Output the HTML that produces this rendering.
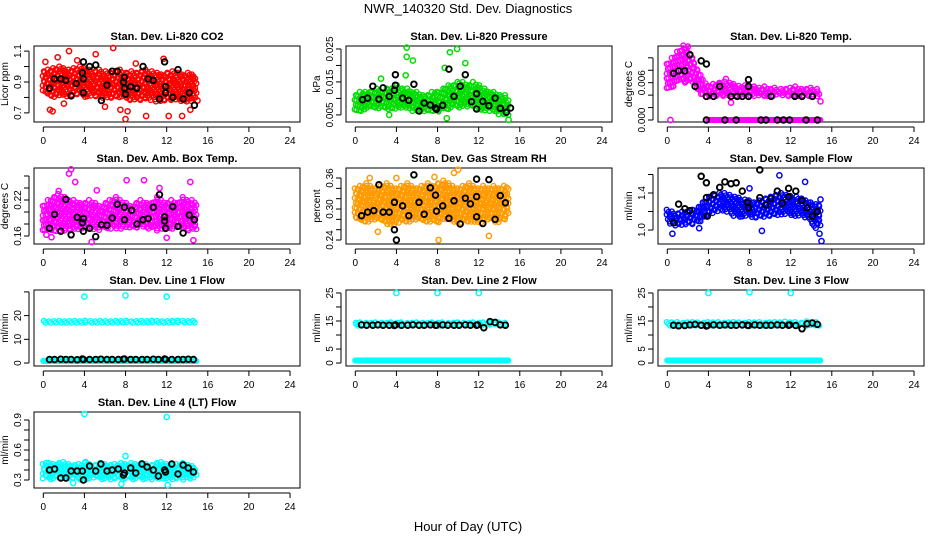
<!DOCTYPE html>
<html><head><meta charset="utf-8"><style>
html,body{margin:0;padding:0;background:#fff;}
svg{display:block;font-family:"Liberation Sans",Arial,sans-serif;}
.t{font-weight:bold;font-size:11px;text-anchor:middle;}
.tk{font-size:10px;}
</style></head><body>
<svg id="chart" width="936" height="540" viewBox="0 0 936 540">
<text x="468" y="13" font-size="13" text-anchor="middle">NWR_140320  Std. Dev. Diagnostics</text>
<text x="468" y="531" font-size="13" text-anchor="middle">Hour of Day (UTC)</text>
</svg>
<script>
// shared half-hour grid 0..15
const gridH = [0,0.5,1,1.5,2,2.5,3,3.5,4,4.5,5,5.5,6,6.5,7,7.5,8,8.5,9,9.5,10,10.5,11,11.5,12,12.5,13,13.5,14,14.5,15];
const xTicks = [0,4,8,12,16,20,24];

const co2Hi = [0.97,0.98,0.99,1.0,0.99,0.98,0.99,1.0,0.99,0.98,0.97,0.98,0.97,0.96,0.97,0.98,0.96,0.97,0.96,0.97,0.98,0.97,0.96,0.95,0.96,0.97,0.96,0.95,0.96,0.95,0.94];
const co2Lo = [0.82,0.81,0.80,0.80,0.81,0.80,0.81,0.82,0.80,0.80,0.81,0.80,0.79,0.80,0.79,0.80,0.79,0.78,0.79,0.78,0.79,0.78,0.77,0.78,0.78,0.77,0.78,0.77,0.77,0.78,0.79];
const co2BlackH = [0.6,1.07,1.7,2.2,2.7,3.2,3.9,3.8,3.9,3.9,4.5,5.1,5.65,6.2,6.7,7.2,7.9,7.8,7.9,8.0,8.5,9.1,9.7,10.2,10.7,11.3,11.8,11.9,11.9,12.6,13.1,13.6,14.2,14.7];
const co2BlackV = [0.86,0.92,0.92,0.91,0.81,0.89,1.03,0.96,0.92,0.83,1.0,1.01,0.78,0.88,0.97,0.97,0.93,0.90,0.86,0.82,0.87,0.86,1.0,0.92,0.91,0.79,1.03,0.87,0.83,0.80,0.98,0.79,0.83,0.75];
const co2OutH = [2.5,6.8,5.1,8.0,0.2,0.65,0.9,2.0,12.2,13.5,10,11.7,6.0,8.2,14.3,15,1.4,3.3,7.5,9.0];
const co2OutV = [1.1,1.12,1.08,0.66,1.03,0.72,0.71,0.76,0.68,0.68,0.68,1.05,0.74,0.71,0.72,0.78,1.06,1.04,0.72,1.02];

const prHi = [0.011,0.012,0.012,0.012,0.013,0.012,0.013,0.013,0.014,0.013,0.013,0.012,0.012,0.011,0.011,0.012,0.012,0.013,0.014,0.014,0.015,0.015,0.014,0.015,0.014,0.013,0.012,0.012,0.011,0.011,0.010];
const prLo = [0.006,0.006,0.007,0.007,0.007,0.007,0.007,0.006,0.007,0.007,0.007,0.006,0.006,0.006,0.006,0.006,0.006,0.006,0.006,0.007,0.007,0.007,0.007,0.007,0.006,0.006,0.006,0.006,0.005,0.005,0.005];
const prBlackH = [0.7,1.2,1.7,2.3,2.7,3.3,3.9,3.9,3.8,4.6,5.2,5.7,6.2,6.7,7.3,7.8,7.9,8.5,9.1,9.6,10.2,10.7,11.3,11.8,11.8,12.4,13.0,13.6,14.1,14.7,15.1];
const prBlackV = [0.0096,0.0101,0.0137,0.0098,0.0132,0.0106,0.0172,0.014,0.0125,0.0101,0.0094,0.0143,0.0062,0.0086,0.008,0.0071,0.0067,0.0079,0.0189,0.0106,0.0137,0.0172,0.009,0.0114,0.0068,0.0091,0.0078,0.0101,0.007,0.0058,0.0071];
const prOutH = [5.0,5.0,5.6,9.2,9.9,8.9,14.9,10.7,8.7,3.3,2.5,4.9];
const prOutV = [0.0254,0.0226,0.0215,0.024,0.025,0.004,0.0035,0.0207,0.0193,0.005,0.016,0.017];

const tempHi = [0.009,0.010,0.011,0.012,0.011,0.010,0.008,0.0065,0.0055,0.0058,0.0060,0.0062,0.0060,0.0058,0.0055,0.0056,0.0055,0.0054,0.0052,0.0054,0.0050,0.0052,0.0050,0.0050,0.0052,0.0054,0.0050,0.0050,0.0052,0.0050,0.0045];
const tempLo = [0.005,0.005,0.006,0.006,0.006,0.006,0.0045,0.0038,0.0038,0.0038,0.0038,0.0038,0.0038,0.0038,0.0038,0.0038,0.0038,0.0038,0.0038,0.0038,0.0038,0.0038,0.0038,0.0038,0.0038,0.0038,0.0038,0.0038,0.0038,0.0038,0.0038];
const tempBase = [null,null,null,null,null,null,null,null,0,0,0,0,0,0,0,0,0,0,0,0,0,0,0,0,0,0,0,0,0,0,0];
const tempBlackH = [0.6,1.1,1.7,2.2,2.7,3.3,3.8,3.8,4.5,5.1,3.8,5.6,6.7,6.2,6.8,7.3,7.9,7.9,7.9,9.1,9.6,10.1,10.7,11.3,11.9,12.4,13.1,13.5,14.1,14.6];
const tempBlackV = [0.0075,0.0079,0.0079,0.0105,0.0054,0.0095,0.009,0.0038,0.0038,0.0054,0,0,0,0.0038,0.0038,0.0038,0.0038,0.0065,0.0054,0,0,0.0038,0,0,0,0.0038,0.0038,0,0.0038,0];
const tempOutH = [0.3,2.0,1.8,6.2,14.9,5.7];
const tempOutV = [0,0.0118,0.0115,0.0028,0.003,0.0066];

const ambHi = [0.21,0.22,0.225,0.23,0.225,0.22,0.22,0.215,0.215,0.22,0.215,0.21,0.215,0.22,0.225,0.22,0.215,0.21,0.215,0.22,0.215,0.215,0.225,0.22,0.215,0.22,0.215,0.225,0.22,0.22,0.215];
const ambLo = [0.17,0.168,0.165,0.17,0.168,0.17,0.168,0.172,0.17,0.168,0.172,0.17,0.175,0.172,0.17,0.172,0.175,0.172,0.17,0.175,0.172,0.17,0.168,0.17,0.172,0.17,0.175,0.172,0.17,0.168,0.17];
const ambBlackH = [0.6,1.1,1.7,2.2,2.7,3.3,3.9,3.8,3.9,4.5,5.1,5.65,6.2,6.7,7.2,7.9,7.9,8.6,9.1,9.7,10.2,10.7,11.3,11.8,11.8,11.9,12.6,13.1,13.6,14.2,14.7];
const ambBlackV = [0.173,0.196,0.168,0.221,0.162,0.191,0.189,0.182,0.168,0.173,0.159,0.179,0.178,0.19,0.213,0.208,0.187,0.203,0.18,0.187,0.189,0.208,0.229,0.185,0.192,0.173,0.209,0.176,0.165,0.195,0.187];
const ambOutH = [2.5,2.7,8.1,9.8,4.7,0.3,14.6,14.3,3.1,5.2,1.5,11.3,0.8,12.0];
const ambOutV = [0.264,0.271,0.253,0.253,0.15,0.162,0.153,0.25,0.25,0.236,0.235,0.24,0.158,0.157];

const rhHi = [0.34,0.345,0.35,0.345,0.34,0.345,0.35,0.345,0.34,0.345,0.35,0.345,0.34,0.345,0.35,0.345,0.35,0.355,0.35,0.345,0.34,0.345,0.35,0.345,0.34,0.345,0.34,0.345,0.34,0.345,0.345];
const rhLo = [0.28,0.275,0.27,0.275,0.28,0.275,0.27,0.265,0.27,0.275,0.27,0.275,0.28,0.275,0.27,0.275,0.27,0.275,0.28,0.275,0.27,0.275,0.27,0.275,0.27,0.275,0.28,0.275,0.275,0.28,0.285];
const rhBlackH = [0.6,1.2,1.8,2.3,2.7,3.3,3.8,3.8,4.0,4.6,5.2,5.7,6.2,6.7,7.3,7.8,7.9,8.5,9.1,9.6,10.2,10.7,11.2,11.8,11.8,11.8,12.4,13.0,13.6,14.1,14.6];
const rhBlackV = [0.287,0.294,0.297,0.347,0.294,0.294,0.313,0.26,0.24,0.306,0.287,0.366,0.313,0.29,0.341,0.327,0.296,0.306,0.282,0.316,0.271,0.321,0.31,0.358,0.324,0.285,0.272,0.357,0.28,0.326,0.312];
const rhOutH = [10.0,8.1,13.0,2.2,1.4,4.0,9.6,7.7];
const rhOutV = [0.376,0.24,0.248,0.256,0.36,0.36,0.37,0.362];

const sfHi = [1.22,1.2,1.18,1.2,1.2,1.22,1.25,1.3,1.36,1.38,1.4,1.4,1.38,1.36,1.35,1.33,1.32,1.3,1.32,1.34,1.36,1.38,1.4,1.38,1.37,1.36,1.34,1.32,1.3,1.28,1.3];
const sfLo = [1.08,1.05,1.04,1.05,1.05,1.06,1.08,1.12,1.16,1.18,1.2,1.2,1.18,1.15,1.14,1.13,1.14,1.13,1.14,1.14,1.15,1.16,1.15,1.16,1.16,1.15,1.14,1.12,1.08,1.02,1.0];
const sfBlackH = [0.6,1.1,1.7,2.2,3.3,3.8,3.8,3.9,4.5,5.1,5.6,6.2,6.7,7.3,7.9,7.8,9.0,9.0,9.6,10.1,10.7,11.2,11.8,11.8,12.5,13.1,13.6,14.1,14.6];
const sfBlackV = [1.08,1.28,1.23,1.21,1.58,1.51,1.35,1.15,1.38,1.46,1.52,1.5,1.51,1.42,1.24,1.3,1.65,1.35,1.27,1.34,1.42,1.29,1.45,1.36,1.42,1.32,1.24,1.15,1.2];
const sfOutH = [0.5,15,14.8,10.9,13.4,9.2,3.1,8.0,14.9];
const sfOutV = [0.96,0.88,0.96,1.59,1.52,0.99,1.02,1.45,1.33];

const lineBlackH = [0.6,1.1,1.7,2.2,2.7,3.3,3.8,3.9,4.5,5.1,5.6,6.2,6.7,7.3,7.8,7.9,8.5,9.0,9.6,10.1,10.7,11.2,11.8,11.9,12.5,13.1,13.6,14.1,14.6];
const flowOutH = [4,8,12];

const l1Hi = [17.8,17.6,17.7,17.8,17.6,17.7,17.8,17.6,17.9,17.7,17.6,17.8,17.7,17.6,17.8,17.7,17.9,17.6,17.7,17.8,17.7,17.9,17.8,17.6,17.7,17.8,17.9,17.8,17.7,17.8,17.7];
const l1Lo = [16.6,16.5,16.6,16.5,16.6,16.5,16.6,16.5,16.6,16.5,16.6,16.5,16.6,16.5,16.6,16.5,16.6,16.5,16.6,16.5,16.6,16.5,16.6,16.5,16.6,16.5,16.6,16.5,16.6,16.5,16.6];
const l1Base = [0.9,0.9,0.9,0.9,0.9,0.9,0.9,0.9,0.9,0.9,0.9,0.9,0.9,0.9,0.9,0.9,0.9,0.9,0.9,0.9,0.9,0.9,0.9,0.9,0.9,0.9,0.9,0.9,0.9,0.9,0.9];
const l1BlackV = [1.5,1.5,1.6,1.5,1.5,1.4,1.7,1.5,1.5,1.5,1.6,1.5,1.5,1.5,1.6,1.7,1.5,1.5,1.5,1.5,1.6,1.5,1.7,1.5,1.5,1.5,1.5,1.6,1.5];
const l1OutV = [28,28.5,28];

const l2Hi = [14.4,14.5,14.4,14.3,14.5,14.4,14.3,14.5,14.4,14.5,14.3,14.4,14.5,14.4,14.3,14.5,14.4,14.5,14.3,14.4,14.5,14.4,14.3,14.5,14.4,14.5,14.3,14.4,14.5,14.4,14.3];
const l2Lo = [13.4,13.3,13.4,13.3,13.4,13.3,13.4,13.3,13.4,13.3,13.4,13.3,13.4,13.3,13.4,13.3,13.4,13.3,13.4,13.3,13.4,13.3,13.4,13.3,13.4,13.3,13.4,13.3,13.4,13.3,13.4];
const l2Base = [0.9,0.9,0.9,0.9,0.9,0.9,0.9,0.9,0.9,0.9,0.9,0.9,0.9,0.9,0.9,0.9,0.9,0.9,0.9,0.9,0.9,0.9,0.9,0.9,0.9,0.9,0.9,0.9,0.9,0.9,0.9];
const l2BlackV = [13.6,13.5,13.5,13.6,13.5,13.5,13.4,13.6,13.5,13.5,13.6,13.5,13.5,13.6,13.5,13.5,13.6,13.5,13.5,13.5,13.6,13.5,13.5,13.6,12.6,14.8,14.5,13.6,13.5];
const l2OutV = [25,25,25];

const l3Hi = [14.6,14.5,14.6,14.4,14.5,14.6,14.5,14.4,14.6,14.5,14.6,14.4,14.5,14.6,14.5,14.4,14.6,14.5,14.6,14.4,14.5,14.6,14.5,14.8,14.5,14.6,14.4,14.9,14.5,14.6,14.4];
const l3Lo = [13.3,13.2,13.3,13.2,13.3,13.2,13.3,13.2,13.3,13.2,13.3,13.2,13.3,13.2,13.3,13.2,13.3,13.2,13.3,13.2,13.3,13.2,13.3,13.2,13.3,13.2,13.3,13.2,13.3,13.2,13.3];
const l3Base = [0.9,0.9,0.9,0.9,0.9,0.9,0.9,0.9,0.9,0.9,0.9,0.9,0.9,0.9,0.9,0.9,0.9,0.9,0.9,0.9,0.9,0.9,0.9,0.9,0.9,0.9,0.9,0.9,0.9,0.9,0.9];
const l3BlackV = [13.5,13.3,13.4,13.6,13.8,13.5,13.2,13.4,13.6,13.5,13.6,13.5,13.5,13.6,13.5,13.4,13.6,13.5,13.5,13.5,13.6,13.5,13.5,13.6,13.4,12.2,14.0,14.3,13.8];
const l3OutV = [25,25.3,25];

const l4Hi = [0.46,0.47,0.46,0.47,0.48,0.46,0.45,0.46,0.47,0.46,0.45,0.47,0.46,0.45,0.46,0.47,0.46,0.47,0.46,0.47,0.46,0.45,0.47,0.48,0.46,0.45,0.46,0.47,0.45,0.44,0.43];
const l4Lo = [0.31,0.3,0.31,0.3,0.31,0.3,0.31,0.3,0.29,0.3,0.31,0.3,0.31,0.3,0.31,0.3,0.31,0.3,0.31,0.3,0.31,0.3,0.31,0.3,0.31,0.3,0.31,0.3,0.31,0.3,0.31];
const l4BlackV = [0.40,0.41,0.32,0.32,0.39,0.39,0.39,0.30,0.44,0.39,0.46,0.39,0.40,0.41,0.35,0.37,0.42,0.37,0.46,0.43,0.40,0.34,0.40,0.38,0.46,0.36,0.45,0.42,0.38];
const l4OutH = [4,12,8,2.9,7.6,12.1,0.3,4.1];
const l4OutV = [0.96,0.93,0.54,0.27,0.26,0.25,0.47,0.48];

const NS = 'http://www.w3.org/2000/svg';
const svg = document.getElementById('chart');
function mk(tag, attrs, parent){ const e=document.createElementNS(NS,tag); for(const k in attrs) e.setAttribute(k,attrs[k]); (parent||svg).appendChild(e); return e; }

const COLX = [34, 346, 658];
const ROWY = [46, 168, 290, 412];
const BOXW = 266, BOXH = 76;
const XDOM = [-0.905, 24.97];

function panel(p){
  const g = mk('g',{});
  
  
  const x0 = COLX[p.col], y0 = ROWY[p.row];
  const xs = h => x0 + (h - XDOM[0]) / (XDOM[1]-XDOM[0]) * BOXW;
  const ys = v => y0 + BOXH - (v - p.dom[0]) / (p.dom[1]-p.dom[0]) * BOXH;
  const t = mk('text',{x:x0+BOXW/2, y:y0-6, class:'t'}, g); t.textContent = p.title;
  
  
  const box = mk('rect',{x:x0, y:y0, width:BOXW, height:BOXH, fill:'none', stroke:'#000', 'stroke-width':1}, g);
  
  
  mk('line',{x1:xs(0), x2:xs(24), y1:y0+BOXH+5, y2:y0+BOXH+5, stroke:'#000'}, g);
  xTicks.forEach(h=>{
    mk('line',{x1:xs(h),x2:xs(h),y1:y0+BOXH+5,y2:y0+BOXH+10,stroke:'#000'}, g);
    const lt = mk('text',{x:xs(h), y:y0+BOXH+22, class:'tk', 'text-anchor':'middle'}, g); lt.textContent = h;
    
    
  });
  const yt0 = p.ticks[0], yt1 = p.ticks[p.ticks.length-1];
  mk('line',{x1:x0-5, x2:x0-5, y1:ys(yt0), y2:ys(yt1), stroke:'#000'}, g);
  p.ticks.forEach(v=>{
    mk('line',{x1:x0-10,x2:x0-5,y1:ys(v),y2:ys(v),stroke:'#000'}, g);
  });
  p.labels.forEach((lab,i)=>{
    const v = p.labelVals[i];
    const lt = mk('text',{x:0,y:0,class:'tk','text-anchor':'middle',transform:`translate(${x0-13},${ys(v)}) rotate(-90)`}, g);
    lt.textContent = lab;
    
    
  });
  const yl = mk('text',{x:0,y:0,class:'tk','text-anchor':'middle',transform:`translate(${x0-26},${y0+BOXH/2}) rotate(-90)`}, g);
  yl.textContent = p.ylab;
  
  
  const marks = mk('g',{fill:'none'}, g);
  const dot = (h,v,col,r,sw)=>{ const c=mk('circle',{cx:xs(h).toFixed(1), cy:ys(v).toFixed(1), r:r, stroke:col, 'stroke-width':sw}, marks); return c; };
  const dotPx = (x,y,col)=>{ mk('circle',{cx:x.toFixed(1), cy:y.toFixed(1), r:2.4, stroke:col, 'stroke-width':1.4}, marks); };
  (p.clouds||[]).forEach(cl=>{
    let n=0;
    for(let i=0;i<gridH.length-1;i++){
      for(let s=0;s<3;s++){
        const f=s/3, h=gridH[i]+f*(gridH[i+1]-gridH[i]);
        const hi=cl.hi[i]+f*(cl.hi[i+1]-cl.hi[i]);
        const lo=cl.lo[i]+f*(cl.lo[i+1]-cl.lo[i]);
        const yA=ys(hi), yB=ys(lo);
        const off = (n%3)*1.6; n++;
        for(let y=yA+off; y<=yB+0.1; y+=4.8){ dotPx(xs(h)+((Math.round(y)%2)?0.6:-0.6), y, cl.color); }
      }
    }
  });
  (p.rows||[]).forEach(rw=>{
    for(let i=0;i<gridH.length-1;i++){
      if(rw.v[i]===null) continue;
      for(let s=0;s<4;s++){ const h=gridH[i]+s*0.125; dot(h, rw.v[i], rw.color, 2.4, 1.4); }
    }
  });
  (p.out||[]).forEach(o=>{ o.h.forEach((h,i)=>dot(h,o.v[i],o.color,2.6,1.5)); });
  p.bh.forEach((h,i)=>{ const c=dot(h,p.bv[i],'#000',2.8,1.9);  });
}

panel({name:'panel-co2',col:0,row:0,title:'Stan. Dev. Li-820 CO2',ylab:'Licor ppm',dom:[0.641,1.133],ticks:[0.7,0.8,0.9,1.0,1.1],labels:['0.7','0.9','1.1'],labelVals:[0.7,0.9,1.1],
  clouds:[{hi:co2Hi,lo:co2Lo,color:'#ff0000'}],out:[{h:co2OutH,v:co2OutV,color:'#ff0000'}],bh:co2BlackH,bv:co2BlackV});
panel({name:'panel-pressure',col:1,row:0,title:'Stan. Dev. Li-820 Pressure',ylab:'kPa',dom:[0.00285,0.0259],ticks:[0.005,0.01,0.015,0.02,0.025],labels:['0.005','0.015','0.025'],labelVals:[0.005,0.015,0.025],
  clouds:[{hi:prHi,lo:prLo,color:'#00dd00'}],out:[{h:prOutH,v:prOutV,color:'#00dd00'}],bh:prBlackH,bv:prBlackV});
panel({name:'panel-temp',col:2,row:0,title:'Stan. Dev. Li-820 Temp.',ylab:'degrees C',dom:[-0.00032,0.0119],ticks:[0,0.002,0.004,0.006,0.008,0.010],labels:['0.000','0.006'],labelVals:[0,0.006],
  clouds:[{hi:tempHi,lo:tempLo,color:'#ff00ff'}],rows:[{v:tempBase,color:'#ff00ff'}],out:[{h:tempOutH,v:tempOutV,color:'#ff00ff'}],bh:tempBlackH,bv:tempBlackV});
panel({name:'panel-amb-box-temp',col:0,row:1,title:'Stan. Dev. Amb. Box Temp.',ylab:'degrees C',dom:[0.1467,0.2733],ticks:[0.16,0.18,0.20,0.22,0.24,0.26],labels:['0.16','0.22'],labelVals:[0.16,0.22],
  clouds:[{hi:ambHi,lo:ambLo,color:'#ff00ff'}],out:[{h:ambOutH,v:ambOutV,color:'#ff00ff'}],bh:ambBlackH,bv:ambBlackV});
panel({name:'panel-gas-rh',col:1,row:1,title:'Stan. Dev. Gas Stream RH',ylab:'percent',dom:[0.2323,0.3794],ticks:[0.24,0.26,0.28,0.30,0.32,0.34,0.36],labels:['0.24','0.30','0.36'],labelVals:[0.24,0.30,0.36],
  clouds:[{hi:rhHi,lo:rhLo,color:'#ff9a00'}],out:[{h:rhOutH,v:rhOutV,color:'#ff9a00'}],bh:rhBlackH,bv:rhBlackV});
panel({name:'panel-sample-flow',col:2,row:1,title:'Stan. Dev. Sample Flow',ylab:'ml/min',dom:[0.849,1.670],ticks:[1.0,1.2,1.4,1.6],labels:['1.0','1.4'],labelVals:[1.0,1.4],
  clouds:[{hi:sfHi,lo:sfLo,color:'#0000ff'}],out:[{h:sfOutH,v:sfOutV,color:'#0000ff'}],bh:sfBlackH,bv:sfBlackV});
panel({name:'panel-line1-flow',col:0,row:2,title:'Stan. Dev. Line 1 Flow',ylab:'ml/min',dom:[-1.25,30.8],ticks:[0,10,20,30],labels:['0','10','20'],labelVals:[0,10,20],
  clouds:[{hi:l1Hi,lo:l1Lo,color:'#00ffff'}],rows:[{v:l1Base,color:'#00ffff'}],out:[{h:flowOutH,v:l1OutV,color:'#00ffff'}],bh:lineBlackH,bv:l1BlackV});
panel({name:'panel-line2-flow',col:1,row:2,title:'Stan. Dev. Line 2 Flow',ylab:'ml/min',dom:[-1.06,26.06],ticks:[0,5,10,15,20,25],labels:['0','5','15','25'],labelVals:[0,5,15,25],
  clouds:[{hi:l2Hi,lo:l2Lo,color:'#00ffff'}],rows:[{v:l2Base,color:'#00ffff'}],out:[{h:flowOutH,v:l2OutV,color:'#00ffff'}],bh:lineBlackH,bv:l2BlackV});
panel({name:'panel-line3-flow',col:2,row:2,title:'Stan. Dev. Line 3 Flow',ylab:'ml/min',dom:[-1.06,26.06],ticks:[0,5,10,15,20,25],labels:['0','5','15','25'],labelVals:[0,5,15,25],
  clouds:[{hi:l3Hi,lo:l3Lo,color:'#00ffff'}],rows:[{v:l3Base,color:'#00ffff'}],out:[{h:flowOutH,v:l3OutV,color:'#00ffff'}],bh:lineBlackH,bv:l3BlackV});
panel({name:'panel-line4-flow',col:0,row:3,title:'Stan. Dev. Line 4 (LT) Flow',ylab:'ml/min',dom:[0.22,0.98],ticks:[0.3,0.4,0.5,0.6,0.7,0.8,0.9],labels:['0.3','0.6','0.9'],labelVals:[0.3,0.6,0.9],
  clouds:[{hi:l4Hi,lo:l4Lo,color:'#00ffff'}],out:[{h:l4OutH,v:l4OutV,color:'#00ffff'}],bh:lineBlackH,bv:l4BlackV});
</script>
</body></html>
